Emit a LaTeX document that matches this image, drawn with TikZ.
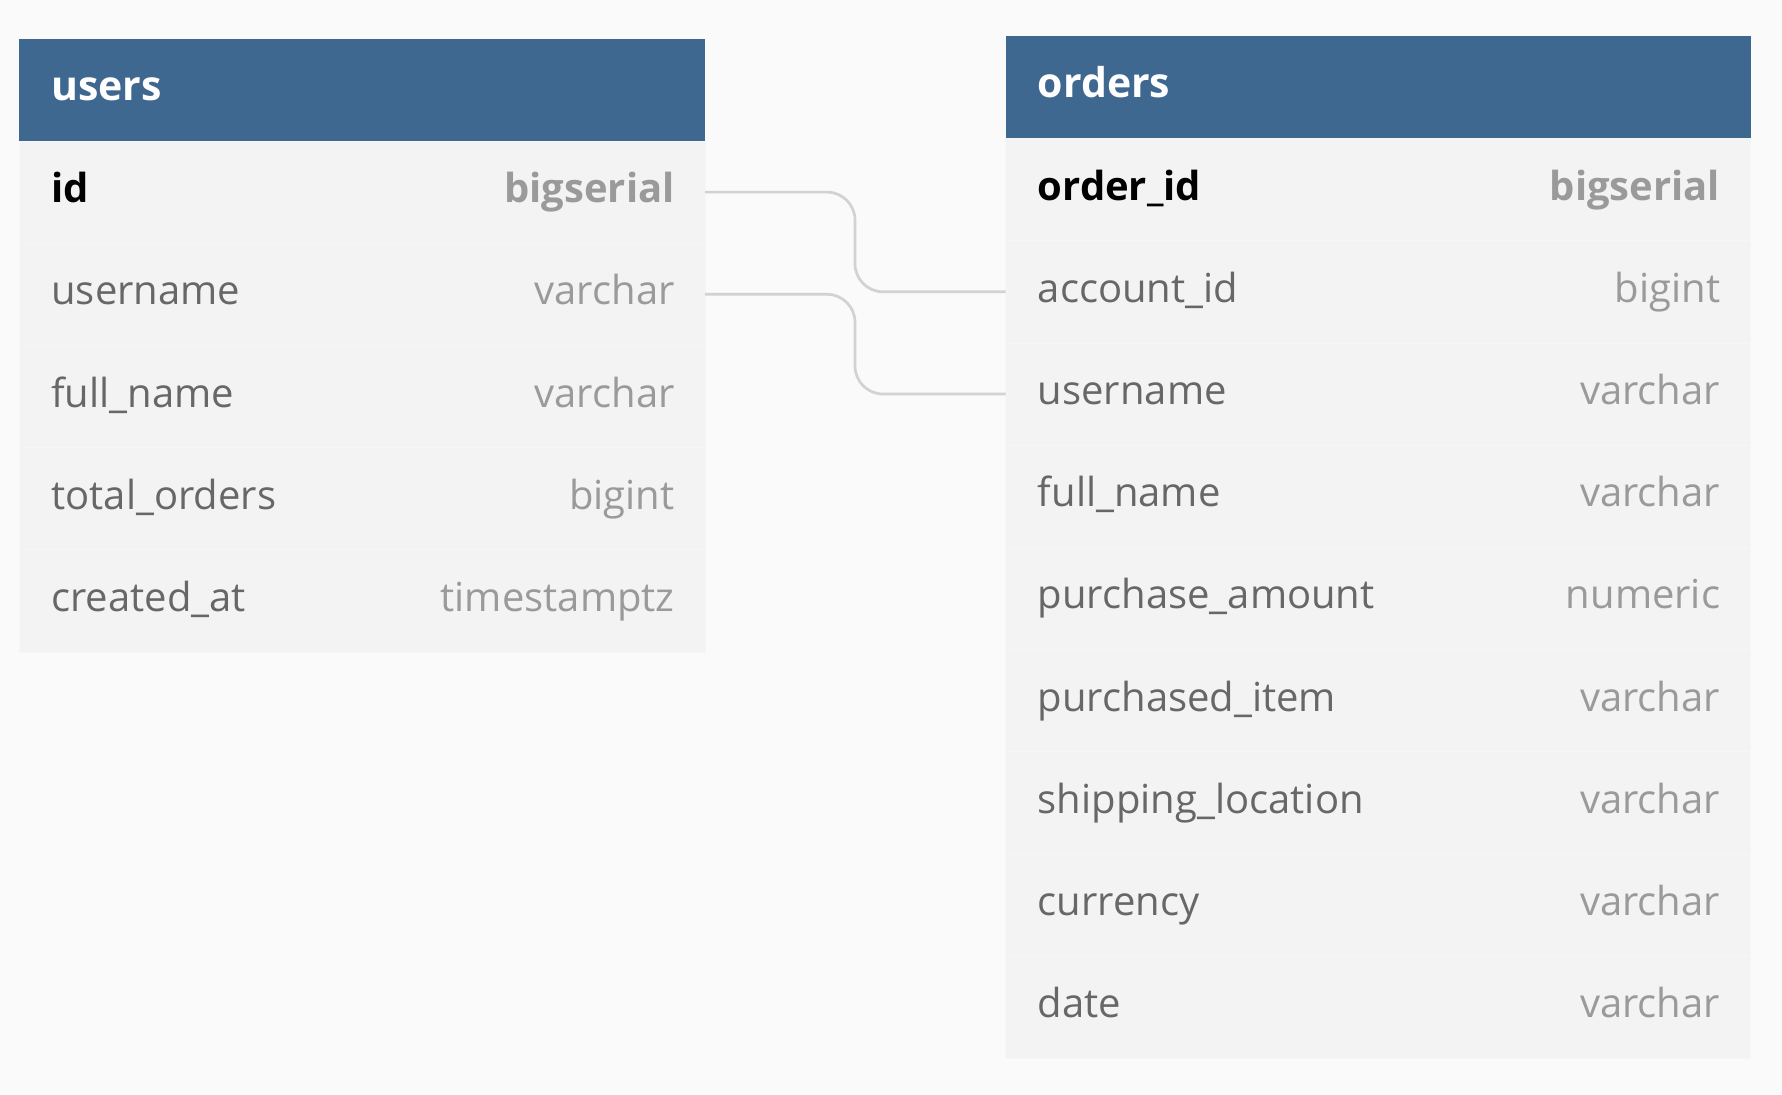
\documentclass[tikz,border=0pt]{standalone}
\usepackage{fontspec}
\setmainfont{Open Sans}
\definecolor{bg}{HTML}{FAFAFA}
\definecolor{hdr}{HTML}{3F6891}
\definecolor{rowfill}{HTML}{F3F3F3}
\definecolor{rowline}{HTML}{F6F6F6}
\definecolor{namegray}{HTML}{676767}
\definecolor{typegray}{HTML}{9A9A9A}
\definecolor{relgray}{HTML}{D2D2D2}
\begin{document}
\begin{tikzpicture}[x=0.5pt,y=-0.5pt,
  hdrbox/.style={draw=none,fill=hdr,anchor=north west,minimum height=51.1pt,inner sep=0,outer sep=0},
  rowbox/.style={draw=rowline,line width=0.4pt,fill=rowfill,anchor=north west,minimum height=51.1pt,inner sep=0,outer sep=0},
  hdrtext/.style={anchor=base west,text=white,font=\fontsize{20.5}{24}\selectfont\bfseries,inner sep=0},
  fname/.style={anchor=base west,text=namegray,font=\fontsize{20}{24}\selectfont,inner sep=0},
  pkname/.style={anchor=base west,text=black,font=\fontsize{20}{24}\selectfont\bfseries,inner sep=0},
  ftype/.style={anchor=base east,text=typegray,font=\fontsize{20}{24}\selectfont,inner sep=0},
  pktype/.style={anchor=base east,text=typegray,font=\fontsize{20}{24}\selectfont\bfseries,inner sep=0},
  rel/.style={draw=relgray,line width=1.35pt,rounded corners=14pt}
]
\fill[bg] (0,0) rectangle (1782,1094);
\useasboundingbox (0,0) rectangle (1782,1094);

% users table
\node[hdrbox,minimum width=343pt] (uh) at (19,38.7) {};
\node[hdrtext] (uht) at ([shift={(32,10.9)}]uh.west) {users};
\node[rowbox,minimum width=343pt] (u1) at (19,141) {};
\node[pkname] (u1n) at ([shift={(32,10.5)}]u1.west) {id};
\node[pktype] (u1t) at ([shift={(-30,10.5)}]u1.east) {bigserial};
\foreach \n/\t [count=\i from 2] in {username/varchar,full\_name/varchar,total\_orders/bigint,created\_at/timestamptz}{
  \node[rowbox,minimum width=343pt] (u\i) at (19,{141+(\i-1)*102.2}) {};
  \node[fname] (u\i n) at ([shift={(32,10.5)}]u\i.west) {\n};
  \node[ftype] (u\i t) at ([shift={(-30,10.5)}]u\i.east) {\t};
}

% orders table
\node[hdrbox,minimum width=372.5pt] (oh) at (1005.5,36.4) {};
\node[hdrtext] (oht) at ([shift={(32,9.8)}]oh.west) {orders};
\node[rowbox,minimum width=372.5pt] (o1) at (1005.5,138.5) {};
\node[pkname] (o1n) at ([shift={(32,10.5)}]o1.west) {order\_id};
\node[pktype] (o1t) at ([shift={(-30,10.5)}]o1.east) {bigserial};
\foreach \n/\t [count=\i from 2] in {account\_id/bigint,username/varchar,full\_name/varchar,purchase\_amount/numeric,purchased\_item/varchar,shipping\_location/varchar,currency/varchar,date/varchar}{
  \node[rowbox,minimum width=372.5pt] (o\i) at (1005.5,{138.5+(\i-1)*102.2}) {};
  \node[fname] (o\i n) at ([shift={(32,10.5)}]o\i.west) {\n};
  \node[ftype] (o\i t) at ([shift={(-30,10.5)}]o\i.east) {\t};
}

% relations
\draw[rel] (u1.east) -- ++(150,0) |- (o2.west);
\draw[rel] (u2.east) -- ++(150,0) |- (o3.west);
\end{tikzpicture}
\end{document}
